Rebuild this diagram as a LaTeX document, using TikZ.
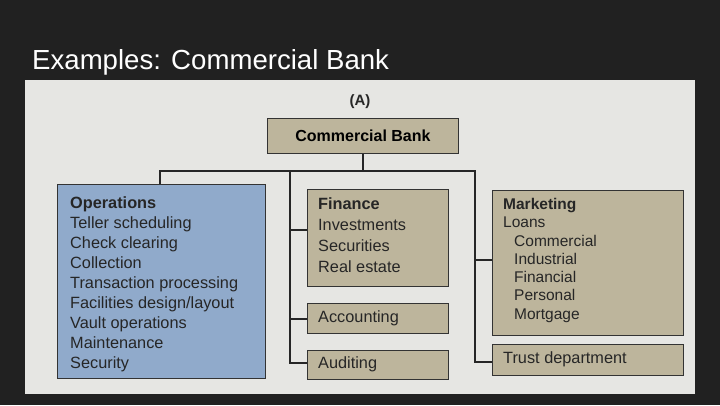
\documentclass[tikz,border=0pt]{standalone}
\usepackage{fontspec}
\setmainfont{Liberation Sans}
\begin{document}
\begin{tikzpicture}[x=1pt,y=-1pt,
  box/.style={draw=black!80,line width=0.9pt,fill=tan,inner sep=0pt},
  lbl/.style={anchor=north west,align=left,font=\fontsize{16.3}{20}\selectfont,text=black!85,inner sep=0pt},
  ln/.style={draw=black!85,line width=1.3pt}]
\definecolor{tan}{HTML}{BDB59C}
\definecolor{opblue}{HTML}{90AACB}
\definecolor{pagec}{HTML}{E6E6E3}
\fill[fill={rgb,255:red,33;green,33;blue,33}] (0,0) rectangle (720,405);
\useasboundingbox (0,0) rectangle (720,405);
\node[anchor=base west,text=white,font=\fontsize{27.6}{31}\selectfont,inner sep=0pt] (title) at (32,69) {Examples: Commercial Bank};
\fill[pagec] (25,80) rectangle (695,394);
\node[font=\bfseries\fontsize{15}{17}\selectfont,text=black!85] (A) at (360,102) {(A)};
\node[box,minimum width=191pt,minimum height=35pt,anchor=north west,font=\bfseries\fontsize{16}{19}\selectfont] (cb) at (267,118) {Commercial Bank};
% connectors
\coordinate (bus) at (cb.south |- 0,171);
\draw[ln] (cb.south) -- (bus);
\draw[ln] (160,184) -- (160,171) -- (475,171) -- (475,362) -- (492,362);
\draw[ln] (290,171) -- (290,363) -- (307,363);
\draw[ln] (290,230) -- (307,230);
\draw[ln] (290,319) -- (307,319);
\draw[ln] (475,260) -- (492,260);
% boxes
\node[box,fill=opblue,minimum width=208pt,minimum height=194pt,anchor=north west] (ops) at (57,184) {};
\node[lbl] at (70,196) {\textbf{Operations}\\Teller scheduling\\Check clearing\\Collection\\Transaction processing\\Facilities design/layout\\Vault operations\\Maintenance\\Security};
\node[box,minimum width=141pt,minimum height=97pt,anchor=north west] (fin) at (307,189) {};
\node[lbl,font=\fontsize{16.3}{21}\selectfont] at (318,197) {\textbf{Finance}\\Investments\\Securities\\Real estate};
\node[box,minimum width=141pt,minimum height=30pt,anchor=north west] (acc) at (307,303) {};
\node[lbl,anchor=west] at (318,318.5) {Accounting};
\node[box,minimum width=141pt,minimum height=29pt,anchor=north west] (aud) at (307,350) {};
\node[lbl,anchor=west] at (318,364.5) {Auditing};
\node[box,minimum width=191pt,minimum height=145pt,anchor=north west] (mkt) at (492,190) {};
\node[lbl,font=\fontsize{15.5}{18.3}\selectfont] at (503,198) {\textbf{Marketing}\\Loans\\\hspace*{11pt}Commercial\\\hspace*{11pt}Industrial\\\hspace*{11pt}Financial\\\hspace*{11pt}Personal\\\hspace*{11pt}Mortgage};
\node[box,minimum width=191pt,minimum height=31pt,anchor=north west] (trust) at (492,344) {};
\node[lbl,anchor=west] at (503,359.5) {Trust department};
\end{tikzpicture}
\end{document}
